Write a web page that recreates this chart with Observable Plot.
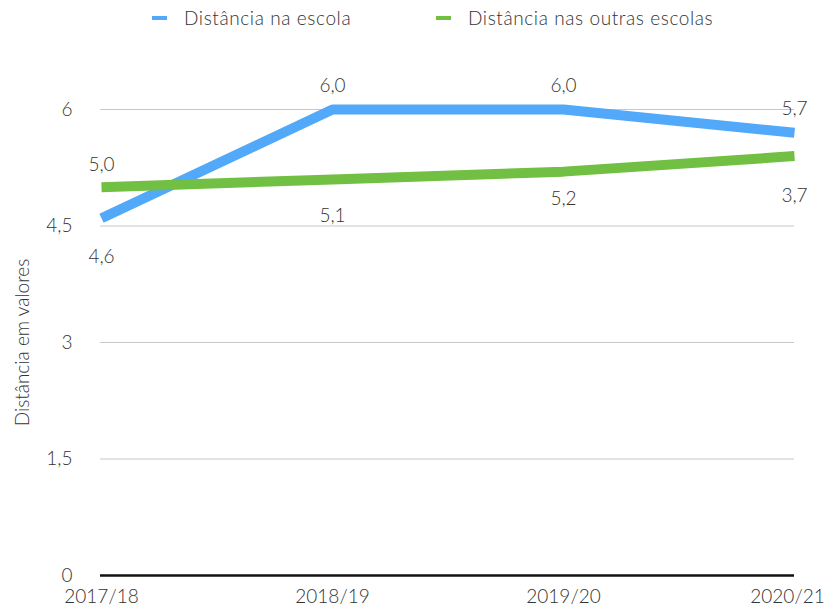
<!DOCTYPE html>
<html>
<head>
<meta charset="utf-8">
<script src="https://cdn.jsdelivr.net/npm/d3@7"></script>
<script src="https://cdn.jsdelivr.net/npm/@observablehq/plot@0.6"></script>
<style>
  body { margin: 0; background: #fff; font-family: Lato, "Open Sans", sans-serif; font-weight: 300; }
  #wrap { position: relative; width: 827px; height: 610px; }
  #legend { position: absolute; top: 6px; left: 0; width: 827px; height: 26px; font-size: 19px; letter-spacing: 0.6px; color: #333; }
  .item { position: absolute; top: 0; display: flex; align-items: center; white-space: nowrap; }
  .sw { width: 15px; height: 4px; margin-right: 17px; }
  #chart { position: absolute; top: 0; left: 0; }
  svg text { font-family: Lato, "Open Sans", sans-serif; font-weight: 300; }
</style>
</head>
<body>
<div id="wrap">
  <div id="chart"></div>
  <div id="legend"></div>
</div>
<script>
const years = ["2017/18", "2018/19", "2019/20", "2020/21"];
const escola = [4.6, 6.0, 6.0, 5.7];
const escolaLabels = ["4,6", "6,0", "6,0", "5,7"];
const outras = [5.0, 5.1, 5.2, 5.4];
const outrasLabels = ["5,0", "5,1", "5,2", "3,7"];
const seriesNames = ["Distância na escola", "Distância nas outras escolas"];
const yTicks = [0, 1.5, 3, 4.5, 6];
const yTitle = "Distância em valores";

const colors = ["#52A8F9", "#71BF43"];
// label vertical offsets (layout)
const escolaDy = [39, -24, -24, -24];
const outrasDy = [-22, 37, 27, 40];

const data = [];
years.forEach((y, i) => {
  data.push({year: y, value: escola[i], series: seriesNames[0], label: escolaLabels[i], dy: escolaDy[i]});
});
years.forEach((y, i) => {
  data.push({year: y, value: outras[i], series: seriesNames[1], label: outrasLabels[i], dy: outrasDy[i]});
});

const fmt = d => String(d).replace(".", ",");

const labelMarks = data.map(d => Plot.text([d], {
  x: "year", y: "value", text: "label", dy: d.dy,
  fill: "#333", fontSize: 19
}));

const chart = Plot.plot({
  width: 827,
  height: 610,
  marginLeft: 100,
  marginRight: 33,
  marginTop: 109,
  marginBottom: 35,
  style: {fontSize: "19px", color: "#333", background: "transparent"},
  x: {type: "point", domain: years, padding: 0, label: null},
  y: {domain: [0, 6], ticks: yTicks, label: null},
  color: {domain: seriesNames, range: colors},
  marks: [
    Plot.ruleY(yTicks.filter(t => t > 0), {stroke: "#c8c8c8", strokeWidth: 1}),
    Plot.ruleY([0], {stroke: "#111", strokeWidth: 2.5}),
    Plot.axisY({ticks: yTicks, tickSize: 0, tickPadding: 28, tickFormat: fmt, fontSize: 19, fill: "#333", label: null}),
    Plot.axisX({ticks: years.slice(0, -1), tickSize: 0, tickPadding: 14, fontSize: 19, fill: "#333", label: null}),
    Plot.axisX({ticks: years.slice(-1), tickSize: 0, tickPadding: 14, dx: -7, fontSize: 19, fill: "#333", label: null}),
    Plot.text([yTitle], {frameAnchor: "left", textAnchor: "middle", dx: -78, rotate: -90, fontSize: 19, fill: "#333"}),
    Plot.line(data, {x: "year", y: "value", z: "series", stroke: "series", strokeWidth: 10, strokeLinejoin: "miter", strokeLinecap: "butt"}),
    ...labelMarks
  ]
});
document.getElementById("chart").appendChild(chart);

const legend = document.getElementById("legend");
const lx = [152, 436];
seriesNames.forEach((n, i) => {
  const it = document.createElement("div");
  it.className = "item";
  it.style.left = lx[i] + "px";
  it.innerHTML = `<span class="sw" style="background:${colors[i]}"></span><span>${n}</span>`;
  legend.appendChild(it);
});
</script>
</body>
</html>
